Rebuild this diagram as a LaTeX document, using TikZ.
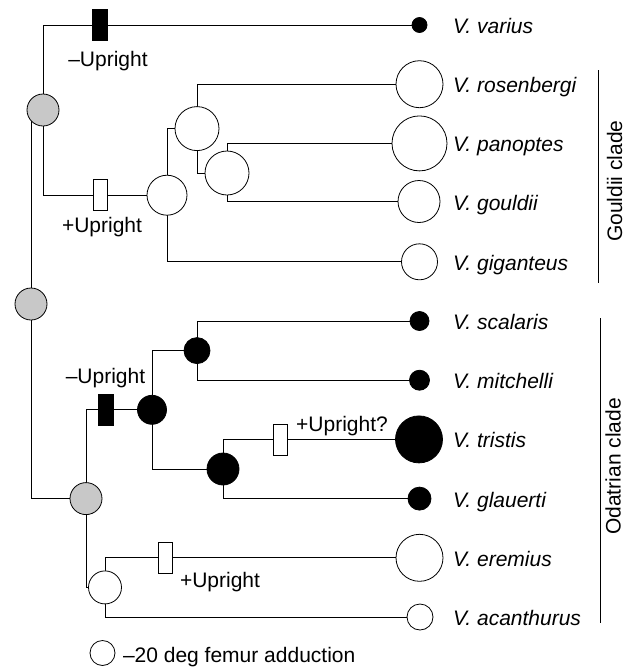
\documentclass[tikz,border=0pt]{standalone}
\usepackage{fontspec}
\setmainfont{Liberation Sans}
\usetikzlibrary{backgrounds}
\definecolor{greyfill}{RGB}{200,200,200}
\begin{document}
\begin{tikzpicture}[x=1pt,y=-1pt,
  every node/.style={inner sep=0pt, outer sep=0pt},
  wnode/.style={circle, draw, fill=white, line width=0.8pt, minimum size=#1},
  bnode/.style={circle, draw, fill=black, line width=0.8pt, minimum size=#1},
  gnode/.style={circle, draw, fill=greyfill, line width=0.8pt, minimum size=#1},
  negbox/.style={rectangle, draw, fill=black, line width=0.8pt, minimum width=15pt, minimum height=31pt},
  posbox/.style={rectangle, draw, fill=white, line width=0.8pt, minimum width=14pt, minimum height=31pt},
  conn/.style={draw, line width=0.8pt},
  sp/.style={anchor=base west, font=\fontsize{21}{25}\selectfont\itshape},
  lbl/.style={anchor=base, font=\fontsize{21}{25}\selectfont},
  clade/.style={anchor=base, rotate=90, font=\fontsize{21}{25}\selectfont},
]
\useasboundingbox (0,0) rectangle (635,667);

% tips
\node[bnode=15] (var) at (419.5,25) {};
\node[wnode=47] (ros) at (419.5,84.2) {};
\node[wnode=55] (pan) at (419.5,143.4) {};
\node[wnode=42] (gou) at (419,201.5) {};
\node[wnode=36] (gig) at (419.5,261.8) {};
\node[bnode=19] (sca) at (419.5,321) {};
\node[bnode=20] (mit) at (419.5,380.2) {};
\node[bnode=47] (tri) at (419,439.4) {};
\node[bnode=23] (gla) at (419.5,498.6) {};
\node[wnode=47] (ere) at (419.5,557.8) {};
\node[wnode=26] (aca) at (420,617) {};

% species labels
\node[sp] (tvar) at (453,33.5) {V. varius};
\node[sp] (tros) at (453,92.7) {V. rosenbergi};
\node[sp] (tpan) at (453,151.9) {V. panoptes};
\node[sp] (tgou) at (453,210) {V. gouldii};
\node[sp] (tgig) at (453,270.3) {V. giganteus};
\node[sp] (tsca) at (453,329.5) {V. scalaris};
\node[sp] (tmit) at (453,388.7) {V. mitchelli};
\node[sp] (ttri) at (453,447.9) {V. tristis};
\node[sp] (tgla) at (453,507.1) {V. glauerti};
\node[sp] (tere) at (453,566.3) {V. eremius};
\node[sp] (taca) at (453,625.5) {V. acanthurus};

% internal nodes
\node[gnode=32] (root) at (31,304) {};
\node[gnode=32] (ug) at (43,110) {};
\node[wnode=40] (wg) at (167,195.2) {};
\node[wnode=44] (wB) at (197,128.6) {};
\node[wnode=44] (wC) at (227,173) {};
\node[gnode=32] (g2) at (86,498.6) {};
\node[bnode=29] (bA) at (152,409.8) {};
\node[bnode=26] (bB) at (197,350.6) {};
\node[bnode=32] (bC) at (223,469) {};
\node[wnode=33] (wA) at (105,587.4) {};

% character boxes
\node[negbox] (nb1) at (100,25) {};
\node[posbox] (pb1) at (100,195.2) {};
\node[negbox] (nb2) at (106,409.8) {};
\node[posbox] (pb2) at (280,439.4) {};
\node[posbox] (pb3) at (165.5,557.8) {};

% box labels
\node[lbl] (l1) at (108,66) {–Upright};
\node[lbl] (l2) at (102,232) {+Upright};
\node[lbl] (l3) at (105.5,383) {–Upright};
\node[lbl] (l4) at (342,431) {+Upright?};
\node[lbl] (l5) at (220,587) {+Upright};

% clades
\coordinate (gt) at (598,70);
\coordinate (gb) at (598,283);
\coordinate (ot) at (600,318);
\coordinate (ob) at (600,623);
\draw[conn] (gt) -- (gb);
\draw[conn] (ot) -- (ob);
\node[clade] (gcl) at (622,181) {Gouldii clade};
\node[clade] (ocl) at (620.5,466.5) {Odatrian clade};

% legend
\node[wnode=25] (leg) at (102.5,653) {};
\node[anchor=base west, font=\fontsize{21}{25}\selectfont] (legt) at (123,662) {–20 deg femur adduction};

\begin{pgfonlayer}{background}
\draw[conn] (root) -- (root |- ug);
\draw[conn] (ug) |- (nb1);
\draw[conn] (nb1) -- (var);
\draw[conn] (ug) |- (pb1);
\draw[conn] (pb1) -- (wg);
\draw[conn] (wg) |- (wB);
\draw[conn] (wg) |- (gig);
\draw[conn] (wB) |- (ros);
\draw[conn] (wB) |- (wC);
\draw[conn] (wC) |- (pan);
\draw[conn] (wC) |- (gou);
\draw[conn] (root) |- (g2);
\draw[conn] (g2) |- (nb2);
\draw[conn] (nb2) -- (bA);
\draw[conn] (bA) |- (bB);
\draw[conn] (bA) |- (bC);
\draw[conn] (bB) |- (sca);
\draw[conn] (bB) |- (mit);
\draw[conn] (bC) |- (pb2);
\draw[conn] (pb2) -- (tri);
\draw[conn] (bC) |- (gla);
\draw[conn] (g2) |- (wA);
\draw[conn] (wA) |- (pb3);
\draw[conn] (pb3) -- (ere);
\draw[conn] (wA) |- (aca);
\end{pgfonlayer}
\end{tikzpicture}
\end{document}
